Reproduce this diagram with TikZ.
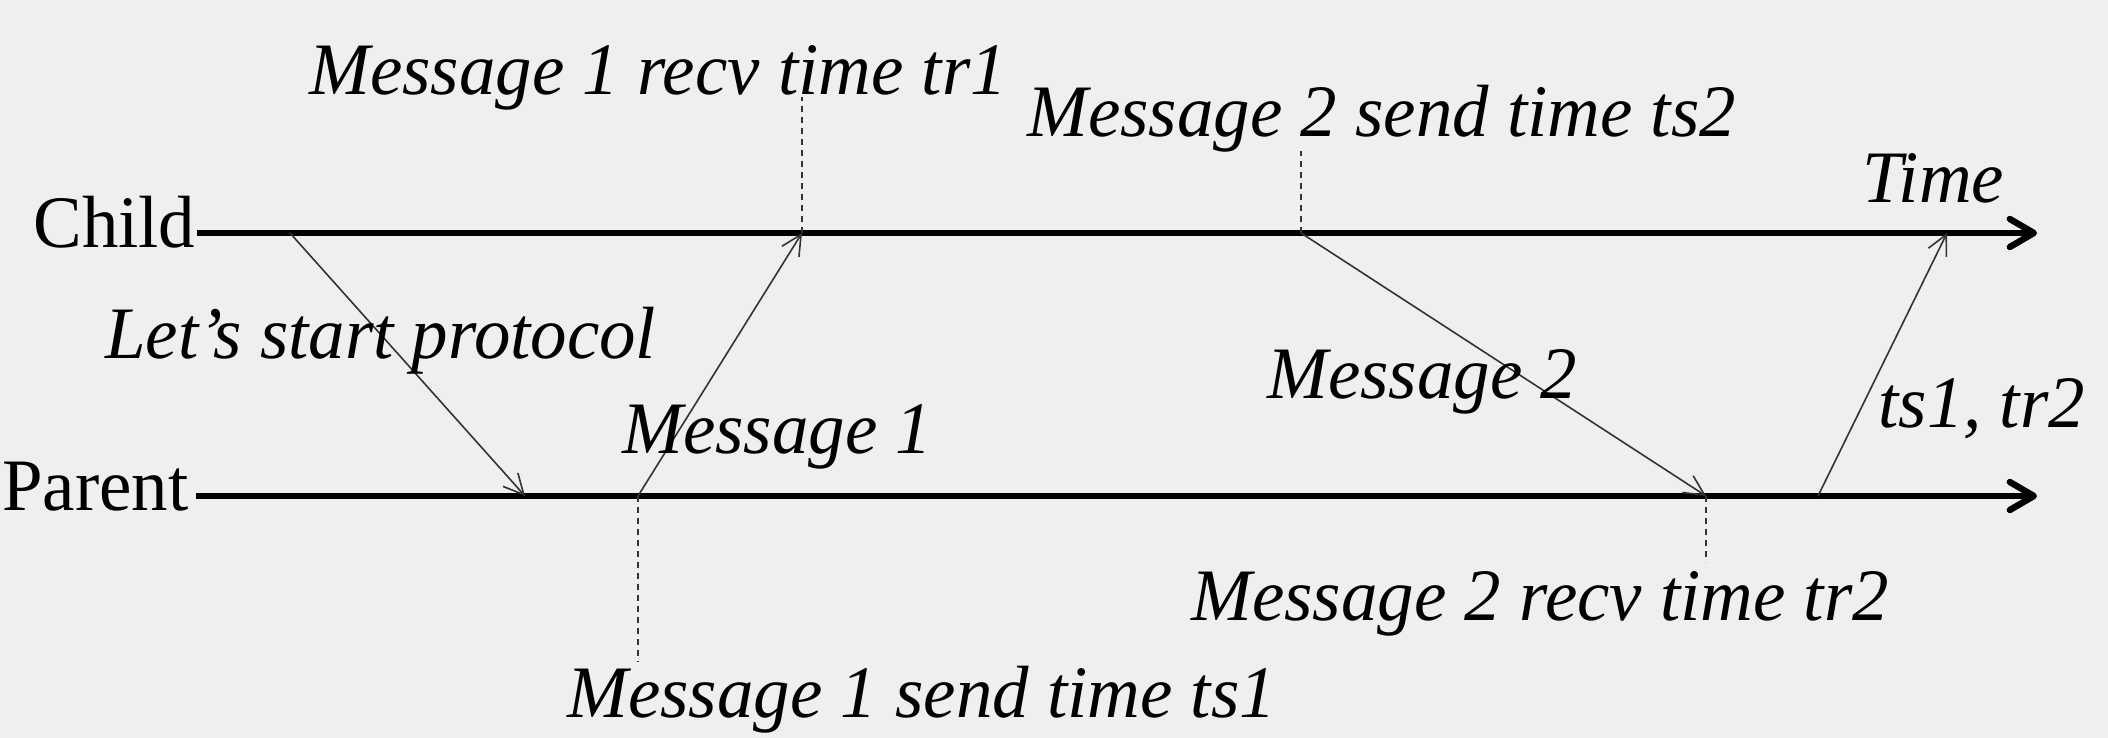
\documentclass[tikz,border=0pt]{standalone}
\usepackage{fontspec}
\setmainfont{Liberation Serif}[FakeStretch=0.985]
\usetikzlibrary{arrows.meta}
\definecolor{bg}{HTML}{EFEFEF}
\begin{document}
\begin{tikzpicture}[x=0.5pt,y=-0.5pt,
  lbl/.style={inner sep=0pt, anchor=base west, font=\fontsize{37}{44}\selectfont},
  ilbl/.style={lbl, font=\fontsize{37}{44}\selectfont\itshape},
  axis/.style={line width=3.2pt, -{Straight Barb[length=12pt,width=14pt,round]}},
  msg/.style={line width=0.8pt, draw=black!80, -{Straight Barb[length=10pt,width=10pt]}},
  guide/.style={line width=0.55pt, draw=black!80, dash pattern=on 3pt off 2.5pt}]
\fill[bg] (0,0) rectangle (2108,738);
% timelines
\coordinate (c0) at (197,233);
\coordinate (cE) at (2037,233);
\coordinate (p0) at (196,496);
\coordinate (pE) at (2037,496);
\node[lbl] (child) at (33,247) {Child};
\node[lbl] (parent) at (2,510) {Parent};
\draw[axis] (c0) -- (cE);
\draw[axis] (p0) -- (pE);
% events
\coordinate (aS) at (290,233);
\coordinate (aR) at (525,496);
\coordinate (m1S) at (638,496);
\coordinate (m1R) at (802,233);
\coordinate (m2S) at (1301,233);
\coordinate (m2R) at (1706,496);
\coordinate (rS) at (1818,496);
\coordinate (rR) at (1947,233);
\draw[msg] (aS) -- (aR);
\draw[msg] (m1S) -- (m1R);
\draw[msg] (m2S) -- (m2R);
\draw[msg] (rS) -- (rR);
% guides
\coordinate (g1) at (802,97);
\coordinate (g2) at (638,662);
\coordinate (g3) at (1301,151);
\coordinate (g4) at (1706,562);
\draw[guide] (m1R) -- (g1);
\draw[guide] (m1S) -- (g2);
\draw[guide] (m2S) -- (g3);
\draw[guide] (m2R) -- (g4);
% labels
\node[ilbl] (t1) at (309,95) {Message 1 recv time tr1};
\node[ilbl] (t2) at (1027,136) {Message 2 send time ts2};
\node[ilbl] (t3) at (1862,202) {Time};
\node[ilbl] (t4) at (105,358) {Let’s start protocol};
\node[ilbl] (t5) at (1267,398) {Message 2};
\node[ilbl] (t6) at (622,453) {Message 1};
\node[ilbl] (t7) at (1878,427) {ts1, tr2};
\node[ilbl] (t8) at (1191,620) {Message 2 recv time tr2};
\node[ilbl] (t9) at (567,717) {Message 1 send time ts1};
\end{tikzpicture}
\end{document}
